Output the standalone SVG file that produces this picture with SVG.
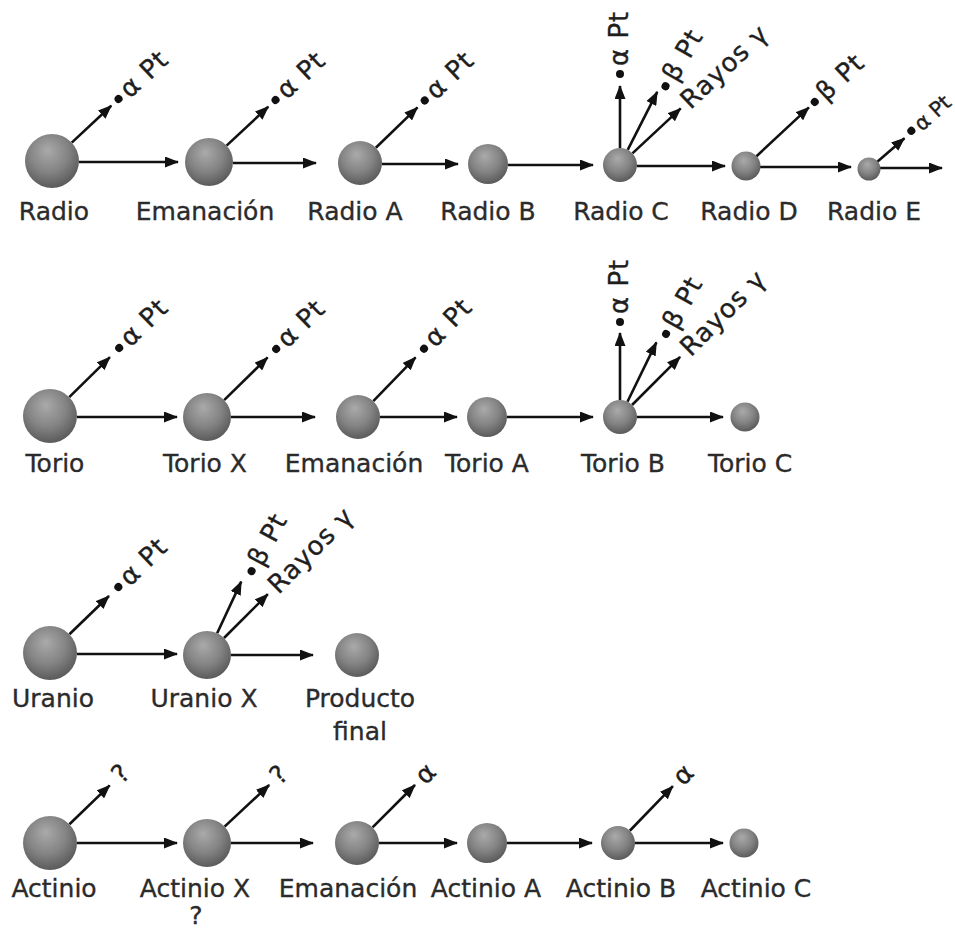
<svg xmlns="http://www.w3.org/2000/svg" width="955" height="930" viewBox="0 0 955 930">
  <defs>
    <radialGradient id="ball" cx="45%" cy="38%" r="65%" fx="42%" fy="30%">
      <stop offset="0" stop-color="#aaaaaa"/>
      <stop offset="0.55" stop-color="#848484"/>
      <stop offset="1" stop-color="#575757"/>
    </radialGradient>
    <marker id="head" viewBox="0 0 14 11" refX="13" refY="5.5" markerWidth="14" markerHeight="11" markerUnits="userSpaceOnUse" orient="auto">
      <path d="M0,0 L14,5.5 L0,11 Z" fill="#111"/>
    </marker>
    <style>
      .ball { fill: url(#ball); }
      .lbl { font-family: "DejaVu Sans", "Liberation Sans", sans-serif; font-size: 25px; fill: #2b2b2b; stroke: #2b2b2b; stroke-width: 0.35; text-anchor: middle; }
      .emt { font-family: "DejaVu Sans", "Liberation Sans", sans-serif; font-size: 26px; letter-spacing: 1px; fill: #1e1e1e; stroke: #1e1e1e; stroke-width: 0.35; }
      .arr { stroke: #111; stroke-width: 2.6; fill: none; marker-end: url(#head); }
      .dot { fill: #111; }
    </style>
  </defs>
  <rect width="955" height="930" fill="#ffffff"/>

  <!-- decay arrows: horizontal chain links and emission arrows -->
  <g id="connectors">
    <!-- radium series -->
    <line class="arr" x1="79" y1="162" x2="178" y2="162"/>
    <line class="arr" x1="233" y1="163" x2="316" y2="163"/>
    <line class="arr" x1="382" y1="164" x2="458" y2="164"/>
    <line class="arr" x1="508" y1="165" x2="593" y2="165"/>
    <line class="arr" x1="637" y1="166" x2="725" y2="166"/>
    <line class="arr" x1="760" y1="167" x2="851" y2="167"/>
    <line class="arr" x1="880" y1="168" x2="942" y2="168"/>
    <g transform="translate(52,161) rotate(-43)"><line class="arr" x1="27" y1="0" x2="81" y2="0"/></g>
    <g transform="translate(209,162) rotate(-43)"><line class="arr" x1="24" y1="0" x2="81" y2="0"/></g>
    <g transform="translate(360,163) rotate(-44)"><line class="arr" x1="22" y1="0" x2="80" y2="0"/></g>
    <g transform="translate(620,165) rotate(-90)"><line class="arr" x1="17" y1="0" x2="79" y2="0"/></g>
    <g transform="translate(620,165) rotate(-63)"><line class="arr" x1="17" y1="0" x2="82" y2="0"/></g>
    <g transform="translate(620,165) rotate(-43)"><line class="arr" x1="17" y1="0" x2="83" y2="0"/></g>
    <g transform="translate(746,166) rotate(-43)"><line class="arr" x1="14" y1="0" x2="86" y2="0"/></g>
    <g transform="translate(869,169) rotate(-41)"><line class="arr" x1="11" y1="0" x2="47" y2="0"/></g>

    <!-- thorium series -->
    <line class="arr" x1="77" y1="417" x2="177" y2="417"/>
    <line class="arr" x1="231" y1="417" x2="315" y2="417"/>
    <line class="arr" x1="380" y1="417" x2="457" y2="417"/>
    <line class="arr" x1="507" y1="417" x2="593" y2="417"/>
    <line class="arr" x1="637" y1="417" x2="723" y2="417"/>
    <g transform="translate(50,416) rotate(-44.5)"><line class="arr" x1="27" y1="0" x2="84" y2="0"/></g>
    <g transform="translate(207,417) rotate(-44.5)"><line class="arr" x1="24" y1="0" x2="85" y2="0"/></g>
    <g transform="translate(358,417) rotate(-46)"><line class="arr" x1="22" y1="0" x2="83" y2="0"/></g>
    <g transform="translate(620,417) rotate(-90)"><line class="arr" x1="17" y1="0" x2="84" y2="0"/></g>
    <g transform="translate(620,417) rotate(-64)"><line class="arr" x1="17" y1="0" x2="83" y2="0"/></g>
    <g transform="translate(620,417) rotate(-45)"><line class="arr" x1="17" y1="0" x2="85" y2="0"/></g>

    <!-- uranium series -->
    <line class="arr" x1="77" y1="654" x2="177" y2="654"/>
    <line class="arr" x1="231" y1="655" x2="313" y2="655"/>
    <g transform="translate(50,653) rotate(-44)"><line class="arr" x1="27" y1="0" x2="82" y2="0"/></g>
    <g transform="translate(207,655) rotate(-65)"><line class="arr" x1="24" y1="0" x2="81" y2="0"/></g>
    <g transform="translate(207,655) rotate(-45)"><line class="arr" x1="24" y1="0" x2="86" y2="0"/></g>

    <!-- actinium series -->
    <line class="arr" x1="77" y1="843" x2="177" y2="843"/>
    <line class="arr" x1="231" y1="843" x2="313" y2="843"/>
    <line class="arr" x1="379" y1="843" x2="457" y2="843"/>
    <line class="arr" x1="507" y1="843" x2="592" y2="843"/>
    <line class="arr" x1="635" y1="843" x2="723" y2="843"/>
    <g transform="translate(50,843) rotate(-44)"><line class="arr" x1="27" y1="0" x2="83" y2="0"/></g>
    <g transform="translate(207,843) rotate(-43)"><line class="arr" x1="24" y1="0" x2="85" y2="0"/></g>
    <g transform="translate(357,843) rotate(-45)"><line class="arr" x1="22" y1="0" x2="82" y2="0"/></g>
    <g transform="translate(618,843) rotate(-46)"><line class="arr" x1="17" y1="0" x2="79" y2="0"/></g>
  </g>

  <!-- emitted particles and rays -->
  <g id="emissions">
    <g transform="translate(52,161) rotate(-43)"><circle class="dot" cx="91" cy="0" r="4"/><text class="emt" x="99" y="8">α Pt</text></g>
    <g transform="translate(209,162) rotate(-43)"><circle class="dot" cx="91" cy="0" r="4"/><text class="emt" x="99" y="8">α Pt</text></g>
    <g transform="translate(360,163) rotate(-44)"><circle class="dot" cx="90" cy="0" r="4"/><text class="emt" x="98" y="8">α Pt</text></g>
    <g transform="translate(620,165) rotate(-90)"><circle class="dot" cx="91" cy="0" r="4"/><text class="emt" x="99" y="8">α Pt</text></g>
    <g transform="translate(620,165) rotate(-60)"><circle class="dot" cx="91" cy="0" r="4"/><text class="emt" x="99" y="8">β Pt</text></g>
    <g transform="translate(620,165) rotate(-43)"><text class="emt" x="89" y="8">Rayos γ</text></g>
    <g transform="translate(746,166) rotate(-43)"><circle class="dot" cx="94" cy="0" r="4"/><text class="emt" x="102" y="8">β Pt</text></g>
    <g transform="translate(869,169) rotate(-42)"><circle class="dot" cx="57" cy="0" r="4"/><text class="emt" x="64" y="8" style="font-size:21px;letter-spacing:0">α Pt</text></g>

    <g transform="translate(50,416) rotate(-44.5)"><circle class="dot" cx="97" cy="0" r="4"/><text class="emt" x="105" y="8">α Pt</text></g>
    <g transform="translate(207,417) rotate(-44.5)"><circle class="dot" cx="97" cy="0" r="4"/><text class="emt" x="105" y="8">α Pt</text></g>
    <g transform="translate(358,417) rotate(-46)"><circle class="dot" cx="95" cy="0" r="4"/><text class="emt" x="103" y="8">α Pt</text></g>
    <g transform="translate(620,417) rotate(-90)"><circle class="dot" cx="95" cy="0" r="4"/><text class="emt" x="103" y="8">α Pt</text></g>
    <g transform="translate(620,417) rotate(-61)"><circle class="dot" cx="95" cy="0" r="4"/><text class="emt" x="103" y="8">β Pt</text></g>
    <g transform="translate(620,417) rotate(-45)"><text class="emt" x="92" y="8">Rayos γ</text></g>

    <g transform="translate(50,653) rotate(-44)"><circle class="dot" cx="95" cy="0" r="4"/><text class="emt" x="103" y="8">α Pt</text></g>
    <g transform="translate(207,655) rotate(-62)"><circle class="dot" cx="95" cy="0" r="4"/><text class="emt" x="103" y="8">β Pt</text></g>
    <g transform="translate(207,655) rotate(-45)"><text class="emt" x="93" y="8">Rayos γ</text></g>

    <g transform="translate(50,843) rotate(-44)"><text class="emt" x="92" y="8">?</text></g>
    <g transform="translate(207,843) rotate(-43)"><text class="emt" x="92" y="8">?</text></g>
    <g transform="translate(357,843) rotate(-45)"><text class="emt" x="89" y="8">α</text></g>
    <g transform="translate(618,843) rotate(-46)"><text class="emt" x="86" y="8">α</text></g>
  </g>

  <!-- radium series -->
  <g id="radio"><circle class="ball" cx="52" cy="161" r="27"/><text class="lbl" x="54" y="220">Radio</text></g>
  <g id="radio-emanacion"><circle class="ball" cx="209" cy="162" r="24"/><text class="lbl" x="205" y="220">Emanación</text></g>
  <g id="radio-a"><circle class="ball" cx="360" cy="163" r="22"/><text class="lbl" x="355" y="220">Radio A</text></g>
  <g id="radio-b"><circle class="ball" cx="488" cy="164" r="20"/><text class="lbl" x="488" y="220">Radio B</text></g>
  <g id="radio-c"><circle class="ball" cx="620" cy="165" r="17"/><text class="lbl" x="621" y="220">Radio C</text></g>
  <g id="radio-d"><circle class="ball" cx="746" cy="166" r="14.5"/><text class="lbl" x="749" y="220">Radio D</text></g>
  <g id="radio-e"><circle class="ball" cx="869" cy="169" r="11.5"/><text class="lbl" x="874" y="220">Radio E</text></g>

  <!-- thorium series -->
  <g id="torio"><circle class="ball" cx="50" cy="416" r="27"/><text class="lbl" x="55" y="472">Torio</text></g>
  <g id="torio-x"><circle class="ball" cx="207" cy="417" r="24"/><text class="lbl" x="205" y="472">Torio X</text></g>
  <g id="torio-emanacion"><circle class="ball" cx="358" cy="417" r="22"/><text class="lbl" x="354" y="472">Emanación</text></g>
  <g id="torio-a"><circle class="ball" cx="487" cy="417" r="20"/><text class="lbl" x="487" y="472">Torio A</text></g>
  <g id="torio-b"><circle class="ball" cx="620" cy="417" r="17"/><text class="lbl" x="623" y="472">Torio B</text></g>
  <g id="torio-c"><circle class="ball" cx="745" cy="417" r="14.5"/><text class="lbl" x="750" y="472">Torio C</text></g>

  <!-- uranium series -->
  <g id="uranio"><circle class="ball" cx="50" cy="653" r="27"/><text class="lbl" x="53" y="707">Uranio</text></g>
  <g id="uranio-x"><circle class="ball" cx="207" cy="655" r="24"/><text class="lbl" x="204" y="707">Uranio X</text></g>
  <g id="producto-final"><circle class="ball" cx="357" cy="655" r="22"/><text class="lbl" x="360" y="707">Producto</text><text class="lbl" x="360" y="740">final</text></g>

  <!-- actinium series -->
  <g id="actinio"><circle class="ball" cx="50" cy="843" r="27"/><text class="lbl" x="54" y="897">Actinio</text></g>
  <g id="actinio-x"><circle class="ball" cx="207" cy="843" r="24"/><text class="lbl" x="195" y="897">Actinio X</text><text class="lbl" x="196" y="924">?</text></g>
  <g id="actinio-emanacion"><circle class="ball" cx="357" cy="843" r="22"/><text class="lbl" x="348" y="897">Emanación</text></g>
  <g id="actinio-a"><circle class="ball" cx="487" cy="843" r="20"/><text class="lbl" x="486" y="897">Actinio A</text></g>
  <g id="actinio-b"><circle class="ball" cx="618" cy="843" r="17"/><text class="lbl" x="621" y="897">Actinio B</text></g>
  <g id="actinio-c"><circle class="ball" cx="744" cy="843" r="14.5"/><text class="lbl" x="756" y="897">Actinio C</text></g>
</svg>
